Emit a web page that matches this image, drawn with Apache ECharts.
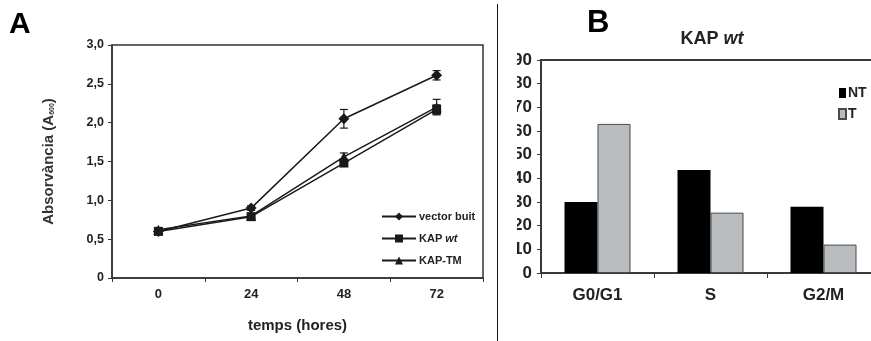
<!DOCTYPE html>
<html>
<head>
<meta charset="utf-8">
<script src="https://cdn.jsdelivr.net/npm/echarts@6/dist/echarts.min.js"></script>
<style>
  html, body { margin: 0; padding: 0; width: 871px; height: 341px; overflow: hidden; background: #fff; position: relative; }
  #chartA { position: absolute; left: 0; top: 0; width: 497px; height: 341px; }
  #chartB { position: absolute; left: 517px; top: 0; width: 380px; height: 341px; }
  #divider { position: absolute; left: 497px; top: 4px; width: 0; height: 337px; border-left: 1.5px solid #111; }
</style>
</head>
<body>
<div id="chartA"></div>
<div id="divider"></div>
<div id="chartB"></div>
<script>
// panel A - absorbance over time
var hours = ['0', '24', '48', '72'];
var yTickLabels = ['0', '0,5', '1,0', '1,5', '2,0', '2,5', '3,0'];
var vectorBuit = [0.60, 0.90, 2.05, 2.61];
var kapWt = [0.60, 0.79, 1.48, 2.17];
var kapTm = [0.62, 0.80, 1.56, 2.20];
var vectorBuitErr = [0.03, 0.03, 0.12, 0.06];
var kapWtErr = [0.03, 0.03, 0.04, 0.06];
var kapTmErr = [0.03, 0.03, 0.05, 0.10];

// panel B - cell cycle phases
var phases = ['G0/G1', 'S', 'G2/M'];
var ntValues = [30, 43.5, 28];
var tValues = [63, 25.5, 12];

var ink = '#1a1a1a';

function errorBars(values, errs) {
  return {
    type: 'custom',
    silent: true,
    z: 1,
    data: values.map(function (v, i) { return [i, v, errs[i]]; }),
    renderItem: function (params, api) {
      var x = api.value(0), v = api.value(1), e = api.value(2);
      var hi = api.coord([x, v + e]);
      var lo = api.coord([x, v - e]);
      var cap = 4;
      var st = { stroke: ink, lineWidth: 1.2 };
      return {
        type: 'group',
        children: [
          { type: 'line', shape: { x1: hi[0], y1: hi[1], x2: lo[0], y2: lo[1] }, style: st },
          { type: 'line', shape: { x1: hi[0] - cap, y1: hi[1], x2: hi[0] + cap, y2: hi[1] }, style: st },
          { type: 'line', shape: { x1: lo[0] - cap, y1: lo[1], x2: lo[0] + cap, y2: lo[1] }, style: st }
        ]
      };
    }
  };
}

function lineSeries(name, data, symbol, size) {
  return {
    name: name,
    type: 'line',
    data: data,
    symbol: symbol,
    symbolSize: size,
    z: 3,
    itemStyle: { color: ink },
    lineStyle: { color: ink, width: 1.5 }
  };
}

var chartA = echarts.init(document.getElementById('chartA'));
chartA.setOption({
  animation: false,
  grid: { left: 112, top: 45, width: 371, height: 233, show: true, borderColor: '#333', borderWidth: 1.5, outerBoundsMode: 'none' },
  graphic: [{
    type: 'text', left: 9, top: 10,
    style: { text: 'A', font: 'bold 30px Arial', fill: '#000' }
  }],
  legend: {
    orient: 'vertical',
    left: 376, top: 206,
    itemWidth: 34, itemHeight: 10, itemGap: 11,
    data: ['vector buit', 'KAP wt', 'KAP-TM'],
    formatter: function (name) {
      return name === 'KAP wt' ? '{n|KAP }{i|wt}' : '{n|' + name + '}';
    },
    textStyle: {
      padding: [0, 0, 0, -2],
      rich: {
        n: { fontFamily: 'Arial', fontWeight: 'bold', fontSize: 11, color: '#222' },
        i: { fontFamily: 'Arial', fontWeight: 'bold', fontStyle: 'italic', fontSize: 11, color: '#222' }
      }
    }
  },
  xAxis: {
    type: 'category',
    data: hours,
    boundaryGap: true,
    name: 'temps (hores)',
    nameLocation: 'middle',
    nameGap: 40,
    nameTextStyle: { fontFamily: 'Arial', fontWeight: 'bold', fontSize: 15, color: '#222' },
    axisLine: { lineStyle: { color: '#333', width: 1.5 } },
    axisTick: { show: true, length: 4, lineStyle: { color: '#333' } },
    axisLabel: { margin: 10, fontFamily: 'Arial', fontWeight: 'bold', fontSize: 13, color: '#222' }
  },
  yAxis: {
    type: 'value',
    min: 0, max: 3, interval: 0.5,
    name: '{a|Absorvància (A}{s|600}{a|)}',
    nameLocation: 'middle',
    nameRotate: 90,
    nameGap: 56,
    nameTextStyle: {
      rich: {
        a: { fontFamily: 'Arial', fontWeight: 'bold', fontSize: 15, color: '#333' },
        s: { fontFamily: 'Arial', fontWeight: 'bold', fontSize: 7, color: '#333', verticalAlign: 'bottom' }
      }
    },
    splitLine: { show: false },
    axisLine: { show: true, lineStyle: { color: '#333', width: 1.5 } },
    axisTick: { show: true, length: 4, lineStyle: { color: '#333' } },
    axisLabel: {
      margin: 8, fontFamily: 'Arial', fontWeight: 'bold', fontSize: 12.5, color: '#222',
      formatter: function (v) { return yTickLabels[Math.round(v / 0.5)]; }
    }
  },
  series: [
    lineSeries('vector buit', vectorBuit, 'diamond', 11),
    lineSeries('KAP wt', kapWt, 'rect', 9),
    lineSeries('KAP-TM', kapTm, 'triangle', 10),
    errorBars(vectorBuit, vectorBuitErr),
    errorBars(kapWt, kapWtErr),
    errorBars(kapTm, kapTmErr)
  ]
});

var chartB = echarts.init(document.getElementById('chartB'));
chartB.setOption({
  animation: false,
  grid: { left: 24, top: 60, width: 339, height: 213, show: true, borderColor: '#3a3a3a', borderWidth: 2, outerBoundsMode: 'none' },
  title: {
    text: '{b|KAP }{i|wt}',
    left: 190, top: 25, textAlign: 'center',
    textStyle: {
      rich: {
        b: { fontFamily: 'Arial', fontWeight: 'bold', fontSize: 18, color: '#222' },
        i: { fontFamily: 'Arial', fontWeight: 'bold', fontStyle: 'italic', fontSize: 18, color: '#222' }
      }
    }
  },
  graphic: [{
    type: 'text', left: 70, top: 8,
    style: { text: 'B', font: 'bold 31px Arial', fill: '#000' }
  }],
  legend: {
    orient: 'vertical',
    left: 316, top: 81,
    icon: 'rect',
    itemWidth: 7, itemHeight: 10, itemGap: 7,
    data: ['NT', 'T'],
    textStyle: { fontFamily: 'Arial', fontWeight: 'bold', fontSize: 14, color: '#222', padding: [0, 0, 0, -3] }
  },
  xAxis: {
    type: 'category',
    data: phases,
    axisLine: { lineStyle: { color: '#3a3a3a', width: 1.5 } },
    axisTick: { show: true, length: 5, lineStyle: { color: '#3a3a3a' } },
    axisLabel: { margin: 14, fontFamily: 'Arial', fontWeight: 'bold', fontSize: 17, color: '#222' }
  },
  yAxis: {
    type: 'value',
    min: 0, max: 90, interval: 10,
    splitLine: { show: false },
    axisLine: { show: true, lineStyle: { color: '#3a3a3a', width: 1.5 } },
    axisTick: { show: true, length: 4, lineStyle: { color: '#3a3a3a' } },
    axisLabel: { margin: 9, fontFamily: 'Arial', fontWeight: 'bold', fontSize: 17, color: '#222' }
  },
  series: [
    {
      name: 'NT', type: 'bar', data: ntValues,
      barWidth: 33, barGap: '0%',
      itemStyle: { color: '#000' }
    },
    {
      name: 'T', type: 'bar', data: tValues,
      barWidth: 33,
      itemStyle: { color: '#b9bcbf', borderColor: '#4a4a4a', borderWidth: 1 }
    }
  ]
});
</script>
</body>
</html>
